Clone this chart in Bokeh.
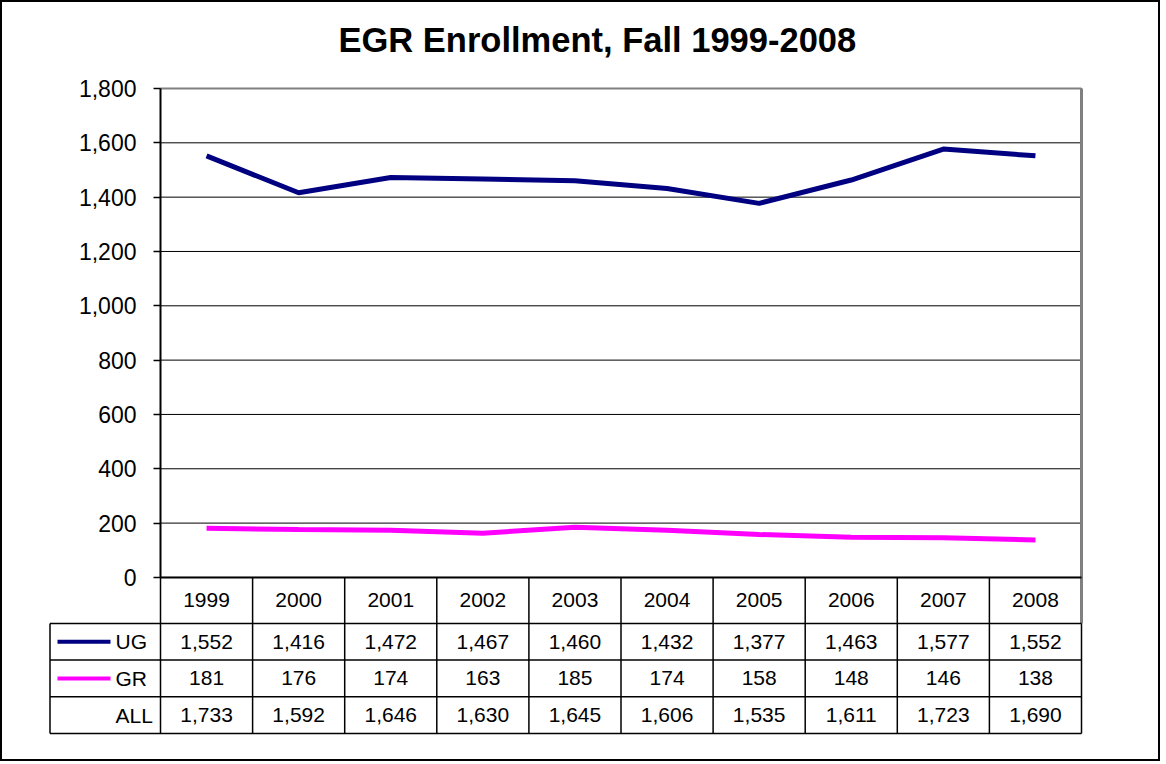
from bokeh.plotting import figure
from bokeh.models import Range1d, FixedTicker, NumeralTickFormatter, ColumnDataSource
from bokeh.embed import file_html
from bokeh.resources import INLINE
from bokeh.core.properties import value

# ---------------- data ----------------
years = ["1999", "2000", "2001", "2002", "2003", "2004", "2005", "2006", "2007", "2008"]
ug = [1552, 1416, 1472, 1467, 1460, 1432, 1377, 1463, 1577, 1552]
gr = [181, 176, 174, 163, 185, 174, 158, 148, 146, 138]
all_ = [1733, 1592, 1646, 1630, 1645, 1606, 1535, 1611, 1723, 1690]
series_names = ["UG", "GR", "ALL"]
y_ticks = [0, 200, 400, 600, 800, 1000, 1200, 1400, 1600, 1800]
Y_MAX = 1800

FONT = "Liberation Sans"
UG_COLOR = "#000080"
GR_COLOR = "#FF00FF"

# ---------------- layout constants (pixels) ----------------
W, H = 1160, 761
PLOT_LEFT = 158          # left edge of the 0..1800 plot area, in figure pixels
FRAME_LEFT = 44          # frame also holds the row-label column of the data table
PAD_R, PAD_T, PAD_B = 3, 14, 3
FRAME_TOP = 86 - PAD_T
PLOT_W = 921
CHART_H = 489
ROW_PX = [46, 36.7, 36.7, 36.7]   # header row, UG, GR, ALL
TABLE_H = sum(ROW_PX)
COL_PX = PLOT_W / len(years)
U = Y_MAX / CHART_H                 # data units per vertical pixel

n = len(years)
xc = [i + 0.5 for i in range(n)]   # centre of each year column

edges = [0.0]
for h in ROW_PX:
    edges.append(edges[-1] - h * U)
centers = [(edges[i] + edges[i + 1]) / 2 for i in range(4)]
label_left = -110.5 / COL_PX

x_start = -(PLOT_LEFT - FRAME_LEFT) / COL_PX
x_end = n + PAD_R / COL_PX
frame_w = int(round((x_end - x_start) * COL_PX))
frame_h = int(round(CHART_H + TABLE_H + PAD_T + PAD_B))

p = figure(width=W, height=H,
           x_range=Range1d(x_start, x_end),
           y_range=Range1d(edges[-1] - PAD_B * U, Y_MAX + PAD_T * U),
           output_backend="svg", toolbar_location=None,
           min_border_left=FRAME_LEFT, min_border_right=W - FRAME_LEFT - frame_w,
           min_border_top=FRAME_TOP, min_border_bottom=H - FRAME_TOP - frame_h)
p.styles = {"border": "2px solid black"}

p.title.text = "EGR Enrollment, Fall 1999-2008"
p.title.text_font = FONT
p.title.text_font_size = "34.5px"
p.title.text_font_style = "bold"
p.title.text_color = "black"
p.title.align = "left"
p.title.offset = 292
p.title.standoff = 31

p.xaxis.visible = False
p.grid.visible = False
p.outline_line_color = None
p.background_fill_color = "white"
p.border_fill_color = "white"

ax = p.yaxis[0]
ax.fixed_location = 0
ax.bounds = (0, Y_MAX)
ax.ticker = FixedTicker(ticks=y_ticks)
ax.formatter = NumeralTickFormatter(format="0,0")
ax.major_label_text_font = FONT
ax.major_label_text_font_size = "23px"
ax.major_label_text_color = "black"
ax.axis_line_color = "black"
ax.axis_line_width = 2
ax.major_tick_line_color = "black"
ax.major_tick_line_width = 1.5
ax.major_tick_out = 7
ax.major_tick_in = 0
ax.minor_tick_line_color = None
ax.major_label_standoff = 17

# horizontal grid lines across the plot area
p.segment(x0=[0] * len(y_ticks), y0=y_ticks, x1=[n] * len(y_ticks), y1=y_ticks,
          line_color="black", line_width=1)

# series lines
p.line(x=xc, y=ug, line_color=UG_COLOR, line_width=5)
p.line(x=xc, y=gr, line_color=GR_COLOR, line_width=5)

# plot-area border (gray top and right)
p.segment(x0=[0], y0=[Y_MAX], x1=[n], y1=[Y_MAX], line_color="#808080", line_width=2)
p.segment(x0=[n], y0=[Y_MAX], x1=[n], y1=[edges[1]], line_color="#808080", line_width=3)

# data table grid
p.segment(x0=[0], y0=[0], x1=[n], y1=[0], line_color="black", line_width=2)
p.segment(x0=list(range(n)), y0=[0] * n, x1=list(range(n)), y1=[edges[1]] * n,
          line_color="black", line_width=1.5)
xs_body = [label_left] + list(range(n + 1))
p.segment(x0=xs_body, y0=[edges[1]] * len(xs_body), x1=xs_body, y1=[edges[-1]] * len(xs_body),
          line_color="black", line_width=1.5)
p.segment(x0=[label_left] * 4, y0=edges[1:], x1=[n] * 4, y1=edges[1:],
          line_color="black", line_width=1.5)

# table texts
def fmt(v):
    return f"{v:,}"

tx = xc * 4
ty = [centers[0]] * n + [centers[1]] * n + [centers[2]] * n + [centers[3]] * n
tt = years + [fmt(v) for v in ug] + [fmt(v) for v in gr] + [fmt(v) for v in all_]
p.text(x="x", y="y", text="t", source=ColumnDataSource(dict(x=tx, y=ty, t=tt)),
       text_font=value(FONT), text_font_size="21px", text_align="center",
       text_baseline="middle", text_color="black")

# legend keys and row labels
lx0, lx1 = -103 / COL_PX, -50 / COL_PX
p.segment(x0=[lx0, lx0], y0=centers[1:3], x1=[lx1, lx1], y1=centers[1:3],
          line_color=[UG_COLOR, GR_COLOR], line_width=4)
p.text(x=[-45 / COL_PX] * 3, y=centers[1:4], text=series_names,
       text_font=value(FONT), text_font_size="21px", text_align="left",
       text_baseline="middle", text_color="black")

open("out.html", "w").write(file_html(p, INLINE))
